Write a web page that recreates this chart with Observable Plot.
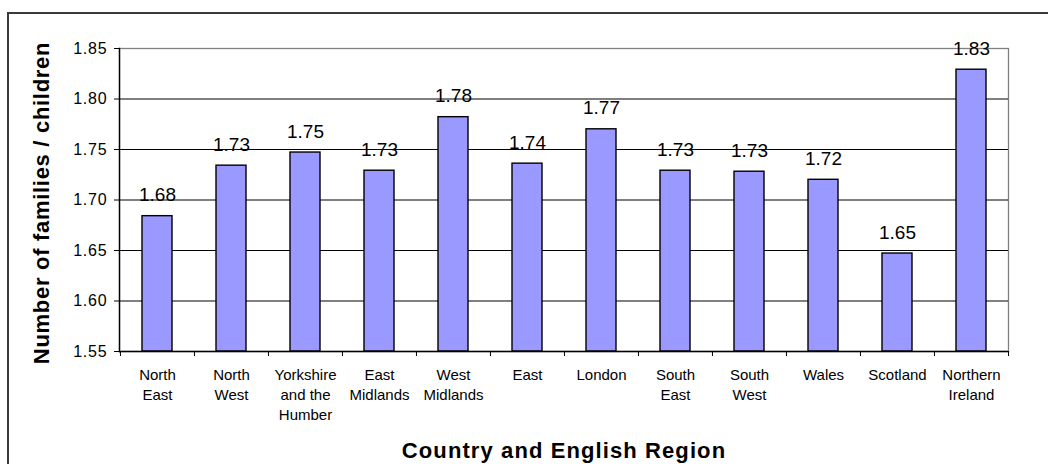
<!DOCTYPE html>
<html>
<head>
<meta charset="utf-8">
<script src="https://cdn.jsdelivr.net/npm/d3@7"></script>
<script src="https://cdn.jsdelivr.net/npm/@observablehq/plot@0.6"></script>
<style>
  html, body { margin: 0; padding: 0; background: #fff; overflow: hidden; }
  #wrap { position: relative; width: 1048px; height: 464px; }
  #outer { position: absolute; left: 7px; top: 12px; width: 2000px; height: 2000px;
           border-left: 2px solid #3a3a3a; border-top: 2px solid #3a3a3a; pointer-events: none; }
  svg { font-family: "Liberation Sans", Arial, sans-serif; }
  .xtitle text { letter-spacing: 1.1px; }
  .ytitle text { letter-spacing: 0.7px; }
  .yticks text { letter-spacing: 0.8px; }
</style>
</head>
<body>
<div id="wrap"><div id="outer"></div></div>
<script>
const categories = ["North East", "North West", "Yorkshire and the Humber", "East Midlands", "West Midlands", "East", "London", "South East", "South West", "Wales", "Scotland", "Northern Ireland"];
const tickLabels = ["North\nEast", "North\nWest", "Yorkshire\nand the\nHumber", "East\nMidlands", "West\nMidlands", "East", "London", "South\nEast", "South\nWest", "Wales", "Scotland", "Northern\nIreland"];
const values = [1.684, 1.734, 1.747, 1.729, 1.782, 1.736, 1.770, 1.729, 1.728, 1.720, 1.647, 1.829];
const yTicks = [1.55, 1.60, 1.65, 1.70, 1.75, 1.80, 1.85];
const xTitle = "Country and English Region";
const yTitle = "Number of families / children";

const data = categories.map((c, i) => ({category: c, value: values[i], label: tickLabels[i]}));

const W = 1048, H = 464, mL = 119, mR = 40, mT = 48, mB = 113;
const band = (W - mL - mR) / categories.length;

const chart = Plot.plot({
  width: W,
  height: H,
  marginLeft: mL,
  marginRight: mR,
  marginTop: mT,
  marginBottom: mB,
  style: {fontFamily: "'Liberation Sans', Arial, sans-serif", color: "#000", background: "transparent", overflow: "visible"},
  x: {domain: categories, padding: 0, axis: null},
  y: {domain: [1.55, 1.85], axis: null},
  marks: [
    Plot.frame({stroke: "#808080", strokeWidth: 1.3}),
    Plot.gridY(yTicks.slice(1, -1), {stroke: "#000", strokeOpacity: 1, strokeWidth: 1}),
    Plot.barY(data, {x: "category", y1: 1.55, y2: "value", fill: "#9999FF", stroke: "#000", strokeWidth: 1.4, insetLeft: 22, insetRight: 22}),
    Plot.ruleY([1.55], {stroke: "#000", strokeWidth: 1.4}),
    Plot.frame({anchor: "left", stroke: "#000", strokeWidth: 1.4}),
    Plot.axisY({ticks: yTicks, tickSize: 5, tickPadding: 7, tickFormat: d3.format(".2f"), fontSize: 16, stroke: "#000", label: null, className: "yticks"}),
    Plot.axisX({ticks: categories, tickSize: 5, text: null, dx: -band / 2, stroke: "#000", label: null}),
    Plot.axisX({ticks: [categories[categories.length - 1]], tickSize: 5, text: null, dx: band / 2, stroke: "#000", label: null}),
    Plot.axisX({ticks: categories, tickSize: 0, tickPadding: 14, tickFormat: d => tickLabels[categories.indexOf(d)], fontSize: 15, lineHeight: 1.333, fill: "#000", label: null}),
    Plot.text(data, {x: "category", y: "value", text: d => d.value.toFixed(2), dy: -15, lineAnchor: "bottom", fontSize: 19, fill: "#000"}),
    Plot.text([yTitle], {frameAnchor: "left", text: d => d, rotate: -90, dx: -78, dy: 3, textAnchor: "middle", fontSize: 22, fontWeight: "bold", fill: "#000", lineAnchor: "middle", className: "ytitle"}),
    Plot.text([xTitle], {frameAnchor: "bottom", text: d => d, dy: 99, textAnchor: "middle", fontSize: 22, fontWeight: "bold", fill: "#000", lineAnchor: "middle", className: "xtitle"})
  ]
});
document.getElementById("wrap").prepend(chart);
</script>
</body>
</html>
